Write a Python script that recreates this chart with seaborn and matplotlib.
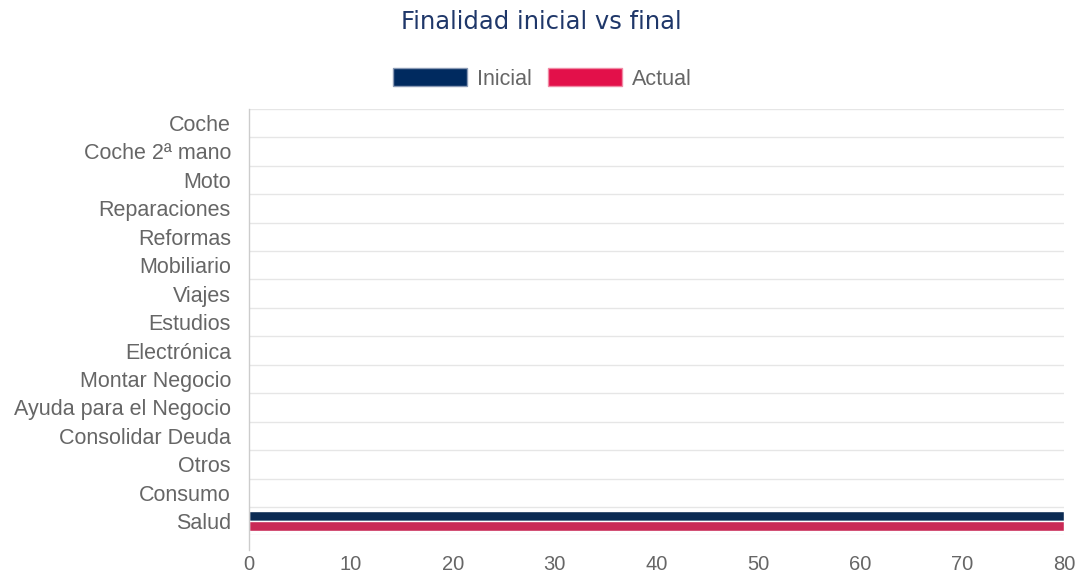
import pandas as pd
import matplotlib.pyplot as plt
import seaborn as sns

# =========================
# DATA
# =========================

categories = [
    "Coche", "Coche 2ª mano", "Moto", "Reparaciones", "Reformas",
    "Mobiliario", "Viajes", "Estudios", "Electrónica", "Montar Negocio",
    "Ayuda para el Negocio", "Consolidar Deuda", "Otros", "Consumo", "Salud",
]
inicial = [0, 0, 0, 0, 0, 0, 0, 0, 0, 0, 0, 0, 0, 0, 80]
actual = [0, 0, 0, 0, 0, 0, 0, 0, 0, 0, 0, 0, 0, 0, 80]
x_ticks = [0, 10, 20, 30, 40, 50, 60, 70, 80]

df = pd.DataFrame({
    "categoria": categories * 2,
    "valor": inicial + actual,
    "serie": ["Inicial"] * len(categories) + ["Actual"] * len(categories),
})

# =========================
# STYLE
# =========================

sns.set_style("white")
plt.rcParams["font.family"] = ["Liberation Sans", "DejaVu Sans"]

navy = "#002a5f"
red = "#e3104a"
grey_text = "#666666"
grid_col = "#e6e6e6"

fig = plt.figure(figsize=(10.79, 5.75), dpi=100)
ax = fig.add_axes([0.2308, 0.0689, 0.7553, 0.7419])

sns.barplot(
    data=df, y="categoria", x="valor", hue="serie",
    order=categories, hue_order=["Inicial", "Actual"],
    palette=[navy, red], orient="h", width=0.7,
    linewidth=1, edgecolor="#ffffff", legend=False, ax=ax,
)

ax.set_xlim(0, 80)
ax.set_ylim(len(categories) - 0.5, -0.5)
ax.set_xticks(x_ticks)
ax.set_xlabel("")
ax.set_ylabel("")

# boundaries between categories as grid lines
ax.set_yticks([i - 0.5 for i in range(len(categories) + 1)], minor=True)
ax.grid(which="minor", axis="y", color=grid_col, linewidth=1)
ax.grid(which="major", axis="x", visible=False)
ax.tick_params(axis="y", which="minor", length=12.5, color=grid_col, width=1)
ax.tick_params(axis="y", which="major", length=0, pad=13,
               labelsize=15.5, labelcolor=grey_text)
ax.tick_params(axis="x", which="major", length=0, pad=14,
               labelsize=14.5, labelcolor=grey_text)

for side in ["top", "right", "bottom"]:
    ax.spines[side].set_visible(False)
ax.spines["left"].set_color("#cccccc")
ax.spines["left"].set_linewidth(1)
ax.spines["left"].set_bounds(-0.5, len(categories) - 0.5 + 0.5)

# =========================
# TITLE + LEGEND
# =========================

fig.text(0.5015, 0.961, "Finalidad inicial vs final", ha="center", va="center",
         fontsize=17.5, color="#1f3769", family=["DejaVu Sans"])

handles = [
    plt.Rectangle((0, 0), 1, 1, facecolor=navy, edgecolor="#8a9ab5", linewidth=1),
    plt.Rectangle((0, 0), 1, 1, facecolor=red, edgecolor="#f08aa5", linewidth=1),
]
fig.legend(handles, ["Inicial", "Actual"], loc="center", bbox_to_anchor=(0.503, 0.863),
           ncol=2, frameon=False, fontsize=15.5, labelcolor=grey_text,
           handlelength=3.4, handleheight=0.92, handletextpad=0.5,
           columnspacing=0.75)

fig.savefig("out.png", dpi=100)
